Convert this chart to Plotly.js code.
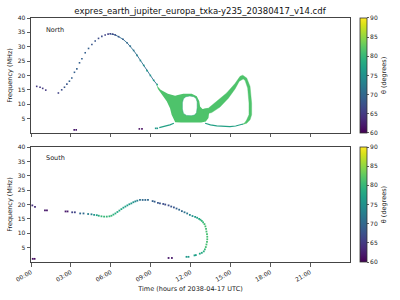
<!DOCTYPE html>
<html>
<head>
<meta charset="utf-8">
<script src="https://cdn.plot.ly/plotly-3.0.1.min.js"></script>
<style>html,body{margin:0;padding:0;background:#fff;}#chart{width:400px;height:300px;}</style>
</head>
<body>
<div id="chart"></div>
<script>
// ---------- data (time in hours of 2038-04-17 UTC, frequency in MHz, theta in degrees) ----------
const xTickVals = [0, 3, 6, 9, 12, 15, 18, 21];
const xTickText = ["00:00", "03:00", "06:00", "09:00", "12:00", "15:00", "18:00", "21:00"];
const yTickVals = [5, 10, 15, 20, 25, 30, 35, 40];
const thetaTicks = [60, 65, 70, 75, 80, 85, 90];

// North: sampled points of the arc and isolated dashes
const northT = [0.43, 0.68, 0.88, 1.11,
  2.06, 2.31, 2.52, 2.70, 2.89, 3.07, 3.27, 3.45, 3.65, 3.83, 4.08, 4.33, 4.58, 4.83, 5.08, 5.33, 5.58, 5.80, 5.96,
  6.15, 6.34, 6.59, 6.92, 7.22, 7.47, 7.72, 7.98, 8.23, 8.48, 8.73, 8.98, 9.23, 9.49,
  3.25, 3.40, 8.15, 8.35, 9.38, 9.50];
const northF = [16.2, 15.9, 15.5, 14.9,
  13.9, 15.0, 15.9, 17.0, 18.0, 19.1, 21.1, 22.3, 24.4, 25.8, 27.9, 29.4, 30.8, 32.0, 32.9, 33.6, 34.1, 34.4, 34.5,
  34.4, 34.1, 33.5, 32.6, 31.4, 30.2, 28.7, 27.0, 25.2, 23.5, 21.7, 20.0, 18.3, 16.8,
  1.05, 1.05, 1.4, 1.4, 1.6, 1.6];
const northTheta = [65, 65, 65, 65,
  66, 67, 68, 68, 69, 69, 69, 69, 69, 69, 69, 69, 68, 68, 67, 67, 66, 66, 66,
  66, 67, 68, 69, 70, 71, 72, 73, 74, 75, 76, 76, 77, 78,
  62, 62, 61, 61, 76, 76];

// North: descending line under the sampled points (peak to the emission blob)
const northLineT = [5.96, 6.15, 6.34, 6.59, 6.92, 7.22, 7.47, 7.72, 7.98, 8.23, 8.48, 8.73, 8.98, 9.23, 9.49];
const northLineF = [34.5, 34.4, 34.1, 33.5, 32.6, 31.4, 30.2, 28.7, 27.0, 25.2, 23.5, 21.7, 20.0, 18.3, 16.8];

// North: outline of the dense emission blob (clockwise; the hole is inserted at the bottom)
const blobTopT = [9.45, 9.75, 10.30, 10.84, 11.05, 11.46, 12.09, 12.47, 12.66, 12.72, 12.90, 13.34,
  13.40, 13.35, 13.15, 12.80, 12.05];
const blobTopF = [16.6, 15.0, 13.6, 12.95, 13.2, 13.65, 13.65, 12.8, 11.0, 9.2, 8.3, 8.6,
  7.0, 5.2, 4.0, 3.6, 3.6];
const blobRestT = [12.05, 11.30, 10.85, 10.76, 10.58, 10.46, 10.21, 9.90, 9.55];
const blobRestF = [3.6, 3.6, 3.7, 4.55, 6.3, 8.6, 11.0, 13.0, 15.3];

// North: empty hole inside the blob (counter-clockwise, starting and ending at its bottom)
const holeT = [12.05, 12.30, 12.45, 12.50, 12.50, 12.42, 12.25, 11.95, 11.65, 11.47, 11.39, 11.39, 11.47, 11.70, 12.05];
const holeF = [6.0, 6.2, 7.0, 8.8, 10.8, 12.0, 12.6, 12.85, 12.6, 11.9, 10.5, 8.3, 6.8, 6.1, 6.0];

// North: rising band and right arm of the loop (outer edge, then inner edge)
const loopT = [13.00, 13.34, 13.97, 14.72, 15.35, 15.73, 15.93, 16.23, 16.48, 16.60, 16.60, 16.48, 16.23, 15.90,
  16.10, 16.23, 16.40, 16.40, 16.30, 16.10, 15.96, 15.67, 15.35, 14.85, 14.22, 13.60, 13.00];
const loopF = [8.3, 8.6, 11.0, 13.9, 17.2, 19.7, 20.1, 19.1, 16.2, 10.4, 6.3, 4.55, 3.4, 2.9,
  3.6, 4.55, 6.3, 10.4, 15.6, 18.3, 18.8, 18.0, 15.3, 12.1, 9.0, 7.1, 6.3];

// North: faint low-frequency tracks on either side of the blob
const northLowT = [9.65, 10.10, 10.45, 10.75, null, 13.10, 13.50, 13.97, 14.50, 14.97, 15.40, 15.73, 15.95];
const northLowF = [1.85, 2.3, 2.8, 3.4, null, 3.4, 2.8, 2.45, 2.25, 2.2, 2.4, 2.8, 3.1];

// South: sampled points
const southT = [0.10, 0.30, 0.13, 0.27, 1.05, 1.20, 2.60, 2.75, 3.10, 3.30, 3.70, 3.95, 4.30, 4.55, 4.75, 4.95,
  5.10, 5.30, 5.50, 5.70, 5.90, 6.05, 6.20, 6.35, 6.50, 6.65, 6.80, 6.95, 7.10, 7.25, 7.40, 7.55, 7.70, 7.85, 8.00,
  8.20, 8.40, 8.60, 8.80, 9.15, 9.30, 9.55, 9.70, 9.95, 10.10, 10.35, 10.55, 10.75, 10.95, 11.15, 11.35, 11.55,
  11.75, 11.95, 12.15, 12.35, 12.50, 12.65, 12.75, 12.85, 12.95, 13.05, 13.12, 13.17, 13.20, 13.24, 13.26, 13.26,
  13.24, 13.20, 13.15, 13.08, 13.00, 12.85, 12.70, 12.40, 12.30, 11.70, 11.85, 10.35, 10.60];
const southF = [19.7, 19.2, 1.1, 1.1, 18.0, 18.0, 17.6, 17.6, 17.3, 17.3, 16.9, 16.9, 16.7, 16.6, 16.4, 16.3,
  16.1, 15.9, 15.8, 15.8, 15.9, 16.1, 16.5, 16.9, 17.4, 17.9, 18.4, 18.9, 19.3, 19.7, 20.1, 20.4, 20.8, 21.1, 21.35,
  21.6, 21.6, 21.6, 21.6, 21.2, 21.0, 20.6, 20.4, 20.2, 20.0, 19.7, 19.3, 19.0, 18.6, 18.2, 17.7, 17.3,
  16.9, 16.4, 16.0, 15.7, 15.4, 15.0, 14.7, 14.3, 13.8, 13.2, 12.4, 11.5, 10.6, 9.7, 8.8, 7.9,
  7.0, 6.1, 5.2, 4.4, 3.7, 3.2, 2.9, 2.4, 2.3, 1.8, 1.8, 1.4, 1.4];
const southTheta = [64, 64, 61, 61, 62, 62, 62, 62, 66, 66, 70, 70, 73, 73, 76, 77,
  79, 80, 80, 80, 80, 80, 79, 79, 78, 78, 78, 77, 77, 77, 76, 76, 75, 74, 73,
  71, 70, 70, 70, 69, 69, 68, 68, 67, 67, 67, 68, 68, 69, 70, 70, 71,
  72, 74, 75, 76, 77, 78, 79, 80, 80, 81, 81, 81, 81, 81, 81, 81,
  81, 81, 81, 80, 79, 78, 78, 77, 77, 76, 76, 62, 62];

// ---------- styling ----------
const FONT = "DejaVu Sans, sans-serif";
const BLOB_GREEN = "#4ec36b";
const LOW_TEAL = "#23a085";
const ARC_BLUE = "#2f6b8e";

// blob outline with a keyhole cut around the hole
const blobPathT = blobTopT.concat(holeT, blobRestT);
const blobPathF = blobTopF.concat(holeF, blobRestF);

function cbar(yc) {
  return {
    x: 1.031, xanchor: "left", xref: "paper",
    y: yc, yanchor: "middle", len: 0.471, lenmode: "fraction",
    thickness: 6.5, ypad: 0, xpad: 0,
    outlinewidth: 0.8, outlinecolor: "#333",
    ticks: "outside", ticklen: 2, tickcolor: "#333", tickwidth: 0.8,
    tickvals: thetaTicks, tickfont: {family: FONT, size: 6, color: "#222"},
    title: {text: "θ (degrees)", side: "right", font: {family: FONT, size: 6.5, color: "#222"}}
  };
}

const traces = [
  // North panel: blob with its hole, loop band
  {x: blobPathT, y: blobPathF, xaxis: "x", yaxis: "y",
   type: "scatter", mode: "lines", fill: "toself",
   fillcolor: BLOB_GREEN, line: {width: 0, color: BLOB_GREEN, simplify: false}, hoverinfo: "skip", showlegend: false},
  {x: loopT, y: loopF, xaxis: "x", yaxis: "y", type: "scatter", mode: "lines", fill: "toself",
   fillcolor: BLOB_GREEN, line: {width: 0.4, color: BLOB_GREEN, simplify: false}, hoverinfo: "skip", showlegend: false},
  {x: holeT, y: holeF, xaxis: "x", yaxis: "y", type: "scatter", mode: "lines",
   line: {width: 0.5, color: "#2fa57e", simplify: false}, hoverinfo: "skip", showlegend: false},
  {x: northLowT, y: northLowF, xaxis: "x", yaxis: "y", type: "scatter", mode: "lines",
   line: {width: 1.1, color: LOW_TEAL}, hoverinfo: "skip", showlegend: false, connectgaps: false},
  {x: northLineT, y: northLineF, xaxis: "x", yaxis: "y", type: "scatter", mode: "lines",
   line: {width: 0.9, color: ARC_BLUE}, hoverinfo: "skip", showlegend: false},
  {x: northT, y: northF, xaxis: "x", yaxis: "y", type: "scatter", mode: "markers", showlegend: false,
   marker: {symbol: "square", size: 1.6, line: {width: 0}, color: northTheta, colorscale: "Viridis",
            cmin: 60, cmax: 90, showscale: true, colorbar: cbar(0.7645)}},
  // South panel
  {x: southT, y: southF, xaxis: "x2", yaxis: "y2", type: "scatter", mode: "markers", showlegend: false,
   marker: {symbol: "square", size: 1.8, line: {width: 0}, color: southTheta, colorscale: "Viridis",
            cmin: 60, cmax: 90, showscale: true, colorbar: cbar(0.2355)}}
];

const axisCommon = {
  range: [0, 24], showgrid: false, zeroline: false, showline: true, mirror: true,
  linecolor: "#444", linewidth: 1, ticks: "outside", ticklen: 3.5, tickwidth: 0.8, tickcolor: "#333",
  tickfont: {family: FONT, size: 6, color: "#222"}
};

const layout = {
  width: 400, height: 300,
  margin: {l: 31, r: 50, t: 18, b: 38, pad: 0},
  paper_bgcolor: "#fff", plot_bgcolor: "#fff",
  font: {family: FONT, color: "#222"},
  title: {text: "expres_earth_jupiter_europa_txka-y235_20380417_v14.cdf",
          font: {family: FONT, size: 8.5, color: "#111"},
          x: 0.5, xref: "container", xanchor: "center", y: 0.963, yref: "container", yanchor: "middle"},
  xaxis: Object.assign({}, axisCommon, {anchor: "y", domain: [0, 1], tickvals: xTickVals, showticklabels: false}),
  yaxis: Object.assign({}, axisCommon, {anchor: "x", domain: [0.529, 1], range: [0, 40], tickvals: yTickVals,
          title: {text: "Frequency (MHz)", font: {family: FONT, size: 6.5, color: "#222"}, standoff: 4}}),
  xaxis2: Object.assign({}, axisCommon, {anchor: "y2", domain: [0, 1], tickvals: xTickVals, ticktext: xTickText,
          tickangle: -30,
          title: {text: "Time (hours of 2038-04-17 UTC)", font: {family: FONT, size: 6.5, color: "#222"}, standoff: 4}}),
  yaxis2: Object.assign({}, axisCommon, {anchor: "x2", domain: [0, 0.471], range: [0, 40], tickvals: yTickVals,
          title: {text: "Frequency (MHz)", font: {family: FONT, size: 6.5, color: "#222"}, standoff: 4}}),
  annotations: [
    {text: "North", xref: "paper", yref: "paper", x: 0.04, y: 0.951, xanchor: "left", yanchor: "middle",
     showarrow: false, font: {family: FONT, size: 6.5, color: "#222"}},
    {text: "South", xref: "paper", yref: "paper", x: 0.04, y: 0.425, xanchor: "left", yanchor: "middle",
     showarrow: false, font: {family: FONT, size: 6.5, color: "#222"}}
  ]
};

Plotly.newPlot("chart", traces, layout, {displayModeBar: false, staticPlot: true});
</script>
</body>
</html>
